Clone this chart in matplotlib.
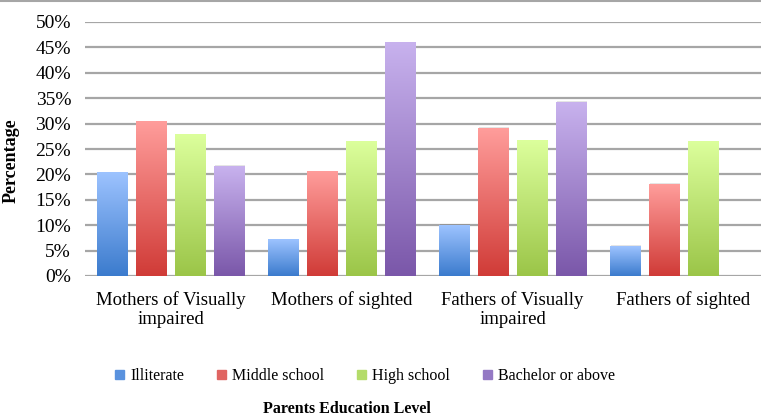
import matplotlib
matplotlib.use("Agg")
import matplotlib.pyplot as plt
import numpy as np
from matplotlib.colors import LinearSegmentedColormap
from matplotlib.patches import Rectangle

groups = ["Mothers of Visually\nimpaired", "Mothers of sighted",
          "Fathers of Visually\nimpaired", "Fathers of sighted"]
levels = ["Illiterate", "Middle school", "High school", "Bachelor or above"]

illiterate = [20.3, 7.1, 10.0, 5.9]
middle = [30.4, 20.5, 29.1, 18.1]
high = [27.8, 26.4, 26.6, 26.4]
bachelor = [21.6, 45.9, 34.2, 0.0]
series = [illiterate, middle, high, bachelor]

# (top, bottom) gradient colours per series
grads = [("#9dc3ff", "#3b7bcd"), ("#ff9d9b", "#d03b37"),
         ("#dcff9c", "#9bc548"), ("#c8b2ee", "#7a57a9")]
legend_cols = ["#5a92de", "#e06562", "#b4dc6a", "#9479c4"]

FONT = "Liberation Serif"
plt.rcParams["font.family"] = FONT

fig = plt.figure(figsize=(7.61, 4.17), dpi=100)
ax = fig.add_axes([85 / 761, 141 / 417, 676 / 761, 254 / 417])

x = np.arange(len(groups))
width = 0.18
step = 0.228

for i, (vals, (top, bot)) in enumerate(zip(series, grads)):
    cmap = LinearSegmentedColormap.from_list(f"g{i}", [bot, top])
    off = (i - 1.5) * step
    for xi, v in zip(x, vals):
        if v <= 0:
            continue
        x0 = xi + off - width / 2
        # soft shadow
        ax.add_patch(Rectangle((x0 + 0.006, 0), width, v / 100 + 0.002,
                               color="#000000", alpha=0.10, lw=0, zorder=2))
        ax.imshow(np.linspace(0, 1, 256).reshape(-1, 1), cmap=cmap,
                  extent=[x0, x0 + width, 0, v / 100], origin="lower",
                  aspect="auto", zorder=3)

ax.set_xlim(-0.5, (761 - 170.5) / 171)
ax.set_ylim(0, 0.5)
yt = np.arange(0, 0.51, 0.05)
ax.set_yticks(yt)
ax.set_yticklabels([f"{int(round(t * 100))}%" for t in yt], fontsize=14)
ax.yaxis.grid(True, color="#a6a6a6", lw=1.6, zorder=1)
ax.set_axisbelow(True)
ax.tick_params(axis="y", length=0, pad=10)
ax.tick_params(axis="x", length=0, pad=11)
ax.set_xticks(x)
ax.set_xticklabels(groups, fontsize=13.5, linespacing=1.15)
for s in ax.spines.values():
    s.set_visible(False)
ax.set_ylabel("Percentage", fontsize=13, fontweight="bold")
ax.yaxis.set_label_coords((20 - 85) / 676, (276 - 161) / 254)

# legend
handles = [Rectangle((0, 0), 1, 1, color=c) for c in legend_cols]
fig.legend(handles, levels, loc="center", bbox_to_anchor=(365 / 761, 1 - 376 / 417),
           ncol=4, frameon=False, fontsize=11.5, handlelength=0.55,
           handleheight=0.55, handletextpad=0.4, columnspacing=2.05)

fig.text(347 / 761, 1 - 409 / 417, "Parents Education Level", ha="center",
         va="center", fontsize=11.5, fontweight="bold")

fig.add_artist(plt.Line2D([0, 1], [0.998, 0.998], color="#a6a6a6", lw=1.5,
                          transform=fig.transFigure))

fig.savefig("out.png", dpi=100)
